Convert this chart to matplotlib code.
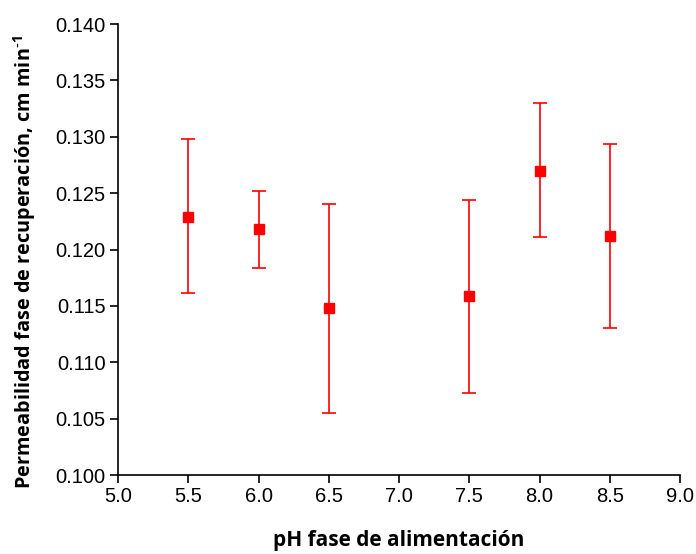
import matplotlib
matplotlib.use("Agg")
import matplotlib.pyplot as plt

ph = [5.5, 6.0, 6.5, 7.5, 8.0, 8.5]
perm = [0.1229, 0.1218, 0.1148, 0.1159, 0.1270, 0.1212]
err_low = [0.1161, 0.1184, 0.1055, 0.1073, 0.1211, 0.1130]
err_high = [0.1298, 0.1252, 0.1240, 0.1244, 0.1330, 0.1294]
xticks = [5.0, 5.5, 6.0, 6.5, 7.0, 7.5, 8.0, 8.5, 9.0]
yticks = [0.100, 0.105, 0.110, 0.115, 0.120, 0.125, 0.130, 0.135, 0.140]

fig = plt.figure(figsize=(6.96, 5.54), dpi=100)
ax = fig.add_axes([118/696, 79/554, (680-118)/696, (475-24)/554])

lower = [p - l for p, l in zip(perm, err_low)]
upper = [h - p for p, h in zip(perm, err_high)]
ax.errorbar(ph, perm, yerr=[lower, upper], fmt='s', color='#ff0000',
            ecolor='#ff0000', elinewidth=1.2, capsize=5, capthick=1.2,
            markersize=7.5, markeredgecolor='#ff0000')

ax.set_xlim(5.0, 9.0)
ax.set_ylim(0.100, 0.140)
ax.set_xticks(xticks)
ax.set_yticks(yticks)
ax.set_xticklabels([f"{v:.1f}" for v in xticks], fontfamily='Liberation Sans', fontsize=14.5)
ax.set_yticklabels([f"{v:.3f}" for v in yticks], fontfamily='Liberation Sans', fontsize=14.5)
for s in ['top', 'right']:
    ax.spines[s].set_visible(False)
for s in ['left', 'bottom']:
    ax.spines[s].set_linewidth(1.2)
ax.tick_params(direction='out', length=6, width=1.2, pad=3)

ax.set_xlabel('pH fase de alimentación', fontfamily='Open Sans', fontweight='bold',
              fontsize=15, labelpad=17)
ax.set_ylabel('Permeabilidad fase de recuperación, cm min$^{\\mathregular{\\text{-}1}}$',
              fontfamily='Open Sans', fontweight='bold', fontsize=14.3)
ax.yaxis.set_label_coords(-0.143, 0.472)

fig.savefig('out.png', dpi=100)
